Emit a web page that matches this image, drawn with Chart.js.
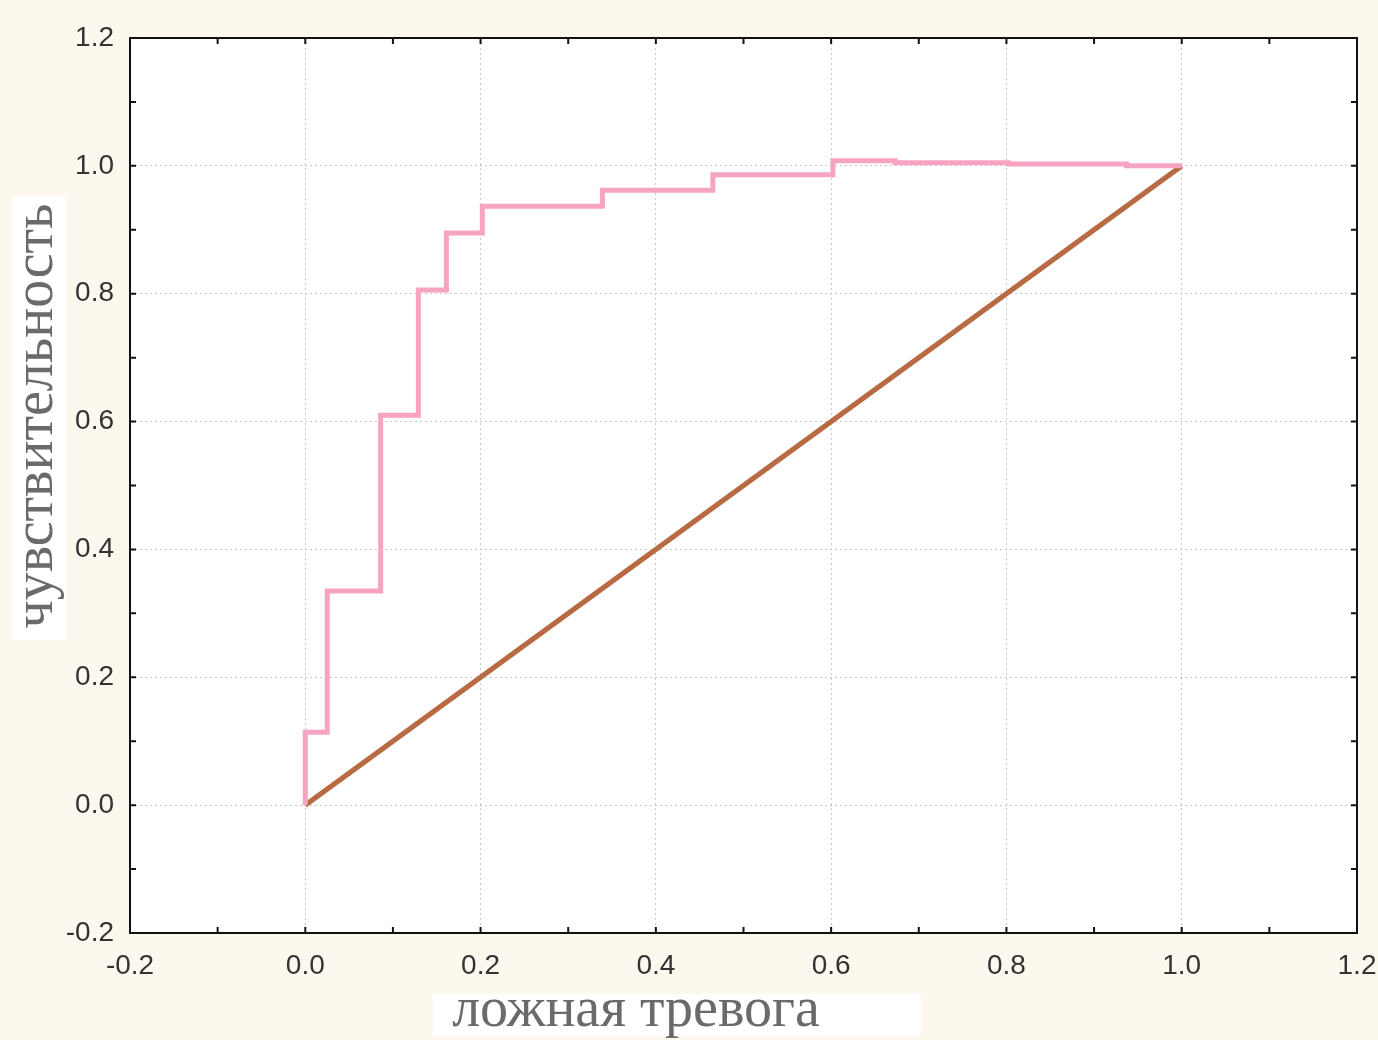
<!DOCTYPE html>
<html>
<head>
<meta charset="utf-8">
<script src="https://cdn.jsdelivr.net/npm/chart.js@4/dist/chart.umd.min.js"></script>
<style>
  html, body { margin: 0; padding: 0; background: #fdf8ee; }
  #wrap { width: 1378px; height: 1040px; }
</style>
</head>
<body>
<div id="wrap"><canvas id="roc"></canvas></div>
<script>
// ROC curve corner points (false alarm rate / sensitivity)
const rocFalseAlarm = [0.0, 0.025, 0.086, 0.129, 0.161, 0.202, 0.339, 0.465, 0.602, 0.673, 0.802, 0.937, 1.0];
const rocSensitivity = [0.0, 0.114, 0.335, 0.61, 0.806, 0.895, 0.937, 0.962, 0.986, 1.008, 1.005, 1.003, 1.0];
// reference diagonal
const diagX = [0.0, 1.0];
const diagY = [0.0, 1.0];
const majorTicks = [-0.2, 0.0, 0.2, 0.4, 0.6, 0.8, 1.0, 1.2];
const xTitle = 'ложная тревога';
const yTitle = 'чувствительность';

const isMajor = v => majorTicks.some(m => Math.abs(m - v) < 1e-6);
const fmt = v => (Math.abs(v) < 1e-9 ? 0 : v).toFixed(1);

const framePlugin = {
    id: 'frame',
    beforeDraw(chart) {
        const { ctx, chartArea: a } = chart;
        ctx.save();
        ctx.fillStyle = '#fdf8ee';
        ctx.fillRect(0, 0, chart.width, chart.height);
        ctx.fillStyle = '#ffffff';
        ctx.fillRect(a.left, a.top, a.right - a.left, a.bottom - a.top);
        // white boxes behind axis titles
        ctx.fillRect(12, 196, 54, 444);
        ctx.fillRect(433, 994, 488, 42);
        ctx.restore();
    },
    afterDraw(chart) {
        const { ctx, chartArea: a, scales } = chart;
        ctx.save();
        // inside tick marks every 0.1
        ctx.strokeStyle = '#111';
        ctx.lineWidth = 2;
        for (let i = -2; i <= 12; i++) {
            const v = i / 10;
            const px = scales.x.getPixelForValue(v);
            const py = scales.y.getPixelForValue(v);
            ctx.beginPath();
            ctx.moveTo(px, a.bottom); ctx.lineTo(px, a.bottom - 6);
            ctx.moveTo(px, a.top); ctx.lineTo(px, a.top + 6);
            ctx.moveTo(a.left, py); ctx.lineTo(a.left + 6, py);
            ctx.moveTo(a.right, py); ctx.lineTo(a.right - 6, py);
            ctx.stroke();
        }
        ctx.strokeRect(a.left, a.top, a.right - a.left, a.bottom - a.top);
        // axis titles
        ctx.fillStyle = '#6a6a6a';
        ctx.font = '56px "Liberation Serif", "DejaVu Serif", serif';
        ctx.textAlign = 'center';
        ctx.textBaseline = 'middle';
        ctx.fillText(xTitle, 636, 1011);
        ctx.translate(37, 416);
        ctx.rotate(-Math.PI / 2);
        ctx.fillText(yTitle, 0, 0);
        ctx.restore();
    }
};

const tickFont = { family: '"Liberation Sans", Arial, sans-serif', size: 28 };

const axisCommon = {
    type: 'linear',
    min: -0.2,
    max: 1.2,
    border: { display: false, dash: [2, 3] },
    grid: {
        drawTicks: false,
        lineWidth: 1,
        color: ctx => (ctx.tick && isMajor(ctx.tick.value)) ? '#c8c8c8' : 'rgba(0,0,0,0)'
    },
    ticks: {
        stepSize: 0.1,
        color: '#333',
        font: tickFont,
        autoSkip: false,
        maxRotation: 0,
        callback: v => isMajor(v) ? fmt(v) : ''
    }
};

new Chart(document.getElementById('roc'), {
    type: 'scatter',
    data: {
        datasets: [
            {
                label: 'ROC',
                data: rocFalseAlarm.map((x, i) => ({ x: x, y: rocSensitivity[i] })),
                showLine: true,
                stepped: 'after',
                borderColor: '#f7a3c2',
                borderWidth: 5,
                pointRadius: 0,
                fill: false
            },
            {
                label: 'diag',
                data: diagX.map((x, i) => ({ x: x, y: diagY[i] })),
                showLine: true,
                borderColor: '#b86a42',
                borderWidth: 5,
                pointRadius: 0,
                fill: false
            }
        ]
    },
    options: {
        responsive: true,
        maintainAspectRatio: false,
        animation: false,
        layout: { padding: { top: 38, right: 21, left: 0, bottom: 0 } },
        plugins: {
            legend: { display: false },
            tooltip: { enabled: false }
        },
        scales: {
            x: {
                ...axisCommon,
                ticks: { ...axisCommon.ticks, padding: 16 },
                afterFit: s => { s.height = 107; s.paddingLeft = 0; s.paddingRight = 0; }
            },
            y: {
                ...axisCommon,
                ticks: { ...axisCommon.ticks, padding: 16 },
                afterFit: s => { s.width = 130; s.paddingTop = 0; s.paddingBottom = 0; }
            }
        }
    },
    plugins: [framePlugin]
});
</script>
</body>
</html>
